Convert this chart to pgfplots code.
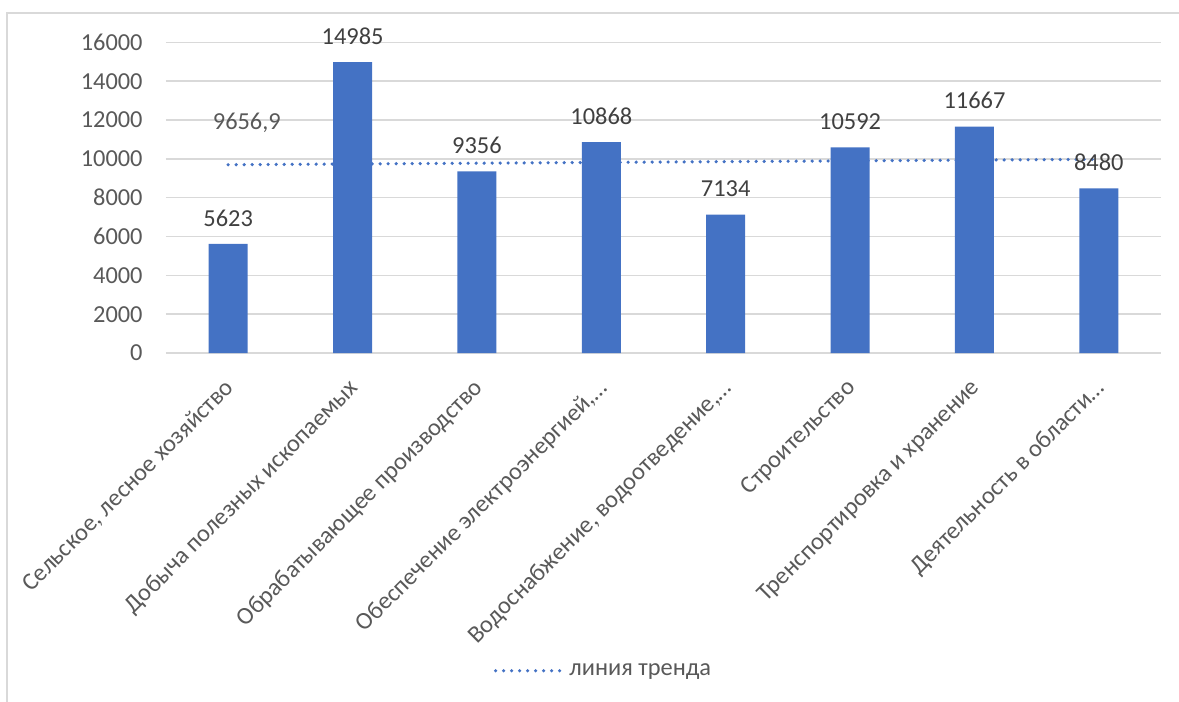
\documentclass[border=0pt]{standalone}
\usepackage{fontspec}
\setmainfont{Carlito}
\usepackage{pgfplots}
\pgfplotsset{compat=1.18}
\definecolor{barblue}{HTML}{4472C4}
\definecolor{gridgray}{HTML}{D9D9D9}
\definecolor{ticktext}{HTML}{595959}
\definecolor{labeltext}{HTML}{404040}
\newcommand{\chartfont}{\fontsize{12.2}{14}\selectfont}

\begin{document}
\begin{tikzpicture}[x=1pt,y=1pt]
\path[use as bounding box] (0,0) rectangle (589.5,351);
% chart frame
\draw[gridgray, line width=0.75pt] (3.5,-1) -- (3.5,344.5) -- (591,344.5);
\begin{axis}[
  at={(83pt,174.5pt)}, anchor=south west,
  scale only axis, width=497.5pt, height=155.3pt,
  xmin=-0.5, xmax=7.5, ymin=0, ymax=16000,
  ytick={0,2000,...,16000},
  scaled y ticks=false,
  xtick={0,...,7},
  xticklabels={{Сельское, лесное хозяйство},
               {Добыча полезных ископаемых},
               {Обрабатывающее производство},
               {Обеспечение электроэнергией,…},
               {Водоснабжение, водоотведение,…},
               {Строительство},
               {Тренспортировка и хранение},
               {Деятельность в области…}},
  axis line style={draw=none},
  major tick length=0pt,
  ymajorgrids,
  grid style={gridgray, line width=0.75pt},
  /pgf/number format/1000 sep={},
  /pgf/number format/assume math mode=true,
  tick label style={font=\chartfont, text=ticktext},
  yticklabel style={anchor=east, inner sep=0pt, xshift=-11.5pt},
  xticklabel style={anchor=north east, inner sep=0pt, xshift=-2.5pt, yshift=-12pt, rotate=45},
  legend style={at={(0.4407,-1.023)}, anchor=center, draw=none, fill=none,
                font=\chartfont, text=ticktext},
  legend image code/.code={\draw[#1] (0pt,0pt) -- (34pt,0pt);},
]
% values by category
\addplot[ybar, bar width=19.5pt, fill=barblue, draw=none, forget plot,
  nodes near coords,
  nodes near coords style={font=\chartfont, text=labeltext, anchor=south,
                           inner sep=0pt, yshift=8.5pt,
                           /pgf/number format/1000 sep={}}]
  coordinates {(0,5623) (1,14985) (2,9356) (3,10868) (4,7134) (5,10592) (6,11667) (7,8480)};
% linear trend (intercept 9656,9, slope 40,27 per category)
\addplot[barblue, line width=1.8pt, dash pattern=on 0pt off 4pt, line cap=round]
  coordinates {(0,9697.2) (7,9978.1)};
\addlegendentry{линия тренда}
\node[font=\chartfont, text=ticktext, anchor=base] at (axis cs:0.15,11503) {9656,9};
\end{axis}
\end{tikzpicture}
\end{document}
